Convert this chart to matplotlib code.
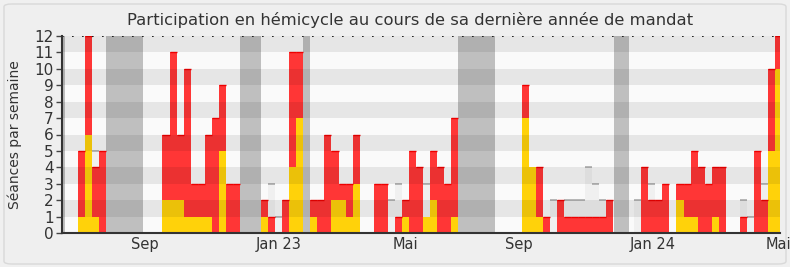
import matplotlib
matplotlib.use("Agg")
import matplotlib.pyplot as plt
from matplotlib.patches import FancyBboxPatch

# semaines affichées (index de semaine)
semaines = list(range(100))

# séances de présence en hémicycle par semaine
presence = [5, 12, 4, 5, 0, 0, 0, 0, 0, 0,
            0, 0, 6, 11, 6, 10, 3, 3, 6, 7,
            9, 3, 3, 0, 0, 0, 2, 1, 0, 2,
            11, 11, 0, 2, 2, 6, 5, 3, 3, 6,
            0, 0, 3, 3, 0, 1, 2, 5, 4, 1,
            5, 4, 3, 7, 0, 0, 0, 0, 0, 0,
            0, 0, 0, 9, 4, 4, 1, 0, 2, 1,
            1, 1, 1, 1, 1, 2, 0, 0, 0, 0,
            4, 2, 2, 3, 0, 3, 3, 5, 4, 3,
            4, 4, 0, 0, 1, 0, 5, 2, 10, 12]

# séances avec intervention
participation = [1, 6, 1, 0, 0, 0, 0, 0, 0, 0,
                 0, 0, 2, 2, 2, 1, 1, 1, 1, 0,
                 5, 0, 0, 0, 0, 0, 1, 0, 0, 0,
                 4, 7, 0, 1, 0, 0, 2, 2, 1, 3,
                 0, 0, 0, 0, 0, 0, 1, 0, 0, 1,
                 2, 0, 0, 1, 0, 0, 0, 0, 0, 0,
                 0, 0, 0, 7, 4, 1, 0, 0, 0, 0,
                 0, 0, 0, 0, 0, 0, 0, 0, 0, 0,
                 0, 0, 0, 0, 0, 2, 1, 1, 0, 0,
                 1, 0, 0, 0, 0, 0, 0, 0, 5, 10]

# présence médiane des députés (visible seulement hors barres)
mediane = [0, 0, 5, 0, 0, 0, 0, 0, 0, 0,
           0, 0, 0, 0, 0, 0, 0, 0, 0, 0,
           0, 0, 0, 0, 0, 0, 0, 3, 1, 0,
           0, 0, 0, 0, 0, 0, 0, 0, 0, 0,
           0, 0, 0, 0, 2, 3, 0, 0, 0, 3,
           0, 0, 0, 0, 0, 0, 0, 0, 0, 0,
           0, 0, 0, 0, 0, 0, 0, 2, 0, 2,
           2, 2, 4, 3, 2, 0, 0, 0, 0, 2,
           0, 3, 0, 0, 0, 0, 0, 0, 0, 0,
           0, 0, 0, 0, 2, 1, 0, 3, 0, 0]

# vacances parlementaires (début, fin) en semaines
vacances = [(-2.3, -1.85), (4, 9.2), (23, 26), (32, 33), (54, 59.2), (76.1, 78.3)]

mois = ["Sep", "Jan 23", "Mai", "Sep", "Jan 24", "Mai"]
mois_pos = [9.45, 28.55, 46.5, 62.6, 81.6, 99.5]

W, H = 790, 267
fig = plt.figure(figsize=(W / 100, H / 100), dpi=100)
fig.patch.set_facecolor("#f0f0f0")
cadre = FancyBboxPatch((4 / W, 3 / H), 782 / W, 260 / H,
                       boxstyle="round,pad=0,rounding_size=0.01",
                       transform=fig.transFigure, facecolor="#efefef",
                       edgecolor="#d9d9d9", lw=1, zorder=-10)
fig.patches.append(cadre)

ax = fig.add_axes([62 / W, 34 / H, 718 / W, 197 / H])
ax.set_zorder(1)
ax.set_facecolor("#fafafa")

for a, b in vacances:
    ax.axvspan(a, b, color="#bfbfbf", lw=0, zorder=1)

# médiane en fond
ax.bar(semaines, mediane, width=1, align="edge", color="k", alpha=0.04, lw=0, zorder=1.4)
for x, m in zip(semaines, mediane):
    if m > 0:
        ax.hlines(m, x, x + 1, color="#aaaaaa", lw=1.2, zorder=1.5)

ax.bar(semaines, presence, width=1, align="edge", color="#ff3636", lw=0, zorder=2)
ax.bar(semaines, participation, width=1, align="edge", color="#ffd20a", lw=0, zorder=2.2)
for x, p, q in zip(semaines, presence, participation):
    if p > q:
        ax.hlines(p, x, x + 1, color="#ee0000", lw=1, zorder=2.3)

# bandes horizontales
for n in range(1, 12, 2):
    ax.axhspan(n, n + 1, color="k", alpha=0.08, lw=0, zorder=3)

ax.axhline(12, color="k", ls=(0, (1, 5)), lw=1.2, zorder=4)

ax.set_xlim(-2.27, 99.7)
ax.set_ylim(0, 12)
ax.set_yticks(range(13))
ax.set_xticks(mois_pos)
ax.set_xticklabels(mois)
ax.tick_params(axis="y", length=4, width=1, color="#444444", labelcolor="#333333",
               labelsize=11, pad=2)
ax.tick_params(axis="x", length=0, labelcolor="#333333", labelsize=10.5, pad=3)
for s in ["top", "right"]:
    ax.spines[s].set_visible(False)
for s in ["left", "bottom"]:
    ax.spines[s].set_color("#333333")
    ax.spines[s].set_linewidth(1.5)
    ax.spines[s].set_zorder(5)

ax.set_ylabel("Séances par semaine", fontsize=10, color="#333333", labelpad=9)
fig.text(410 / W, 1 - 20 / H, "Participation en hémicycle au cours de sa dernière année de mandat",
         ha="center", va="center", fontsize=11.8, color="#333333")

fig.savefig("out.png", dpi=100, facecolor=fig.get_facecolor())
